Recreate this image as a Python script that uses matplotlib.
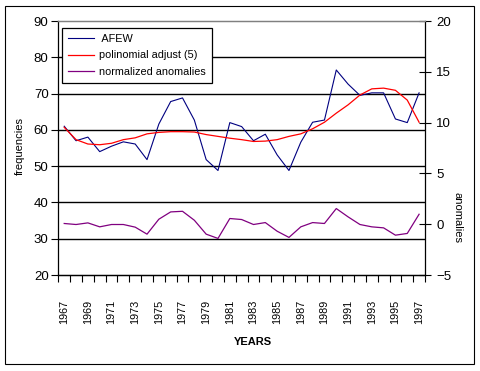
import numpy as np
import matplotlib.pyplot as plt
from matplotlib.patches import Rectangle

plt.rcParams['font.family'] = ['Liberation Sans', 'DejaVu Sans']

years = list(range(1967, 1998))
afew = [61, 57, 58, 54, 55.5, 56.7, 56.1, 51.8, 61.6, 67.8, 68.8, 62.7, 51.8, 48.8,
        62, 60.9, 57, 58.8, 53.1, 48.8, 56.6, 62.1, 62.7, 76.5, 72.6, 69.5, 70.2,
        70.2, 63, 62, 70.2]
poly5 = [60.7, 57.3, 56.1, 55.9, 56.3, 57.3, 57.8, 58.9, 59.3, 59.5, 59.5, 59.4,
         58.7, 58.2, 57.7, 57.3, 56.8, 56.9, 57.3, 58.2, 58.9, 60.3, 62.1, 64.6,
         66.9, 69.6, 71.3, 71.5, 70.9, 68.2, 62.1]
anomalies = [0.07, -0.03, 0.13, -0.26, -0.03, -0.03, -0.29, -0.98, 0.49, 1.21, 1.27,
             0.39, -0.98, -1.4, 0.56, 0.46, -0.03, 0.16, -0.69, -1.3, -0.26, 0.16,
             0.07, 1.54, 0.72, -0.03, -0.26, -0.36, -1.08, -0.91, 0.98]

fig = plt.figure(figsize=(4.81, 3.71), dpi=100)
fig.patches.append(Rectangle((5 / 481, 1 - 364 / 371), 469 / 481, 358 / 371,
                             transform=fig.transFigure, fill=False,
                             edgecolor='black', linewidth=0.8))

ax = fig.add_axes([58.3 / 481, 1 - 275 / 371, (425 - 58.3) / 481, (275 - 21) / 371])
ax2 = ax.twinx()

# gridlines
for v in range(30, 90, 10):
    ax.axhline(v, color='black', linewidth=1.0, zorder=1)

l1, = ax.plot(years, afew, color='#000080', linewidth=0.8, zorder=3)
l2, = ax.plot(years, poly5, color='#ff0000', linewidth=0.9, zorder=3)
l3, = ax2.plot(years, anomalies, color='#800080', linewidth=0.9, zorder=3)

ax.set_xlim(1966.5, 1997.5)
ax.set_ylim(20, 90)
ax2.set_ylim(-5, 20)
ax.set_yticks(range(20, 91, 10))
ax2.set_yticks(range(-5, 21, 5))

ax.set_xticks(years[::2])
ax.set_xticklabels([str(y) for y in years[::2]], rotation=90, fontsize=7.8, va='top')
ax.set_xticks(np.arange(1966.5, 1998, 1), minor=True)
ax.tick_params(axis='x', which='major', length=0, pad=18)
ax.tick_params(axis='x', which='minor', length=5, width=0.8, direction='out')
ax.tick_params(axis='y', labelsize=9.5, length=5, width=0.8, direction='out', pad=2)
ax2.tick_params(axis='y', labelsize=9.5, length=8, width=0.8, direction='inout', pad=4)

for a in (ax, ax2):
    a.set_facecolor('none')
    for s in a.spines.values():
        s.set_linewidth(0.9)
ax.spines['top'].set_color('#808080')
ax.spines['right'].set_visible(False)
ax2.spines['top'].set_color('#808080')
ax2.spines['left'].set_visible(False)

fig.text(20 / 481, 1 - 146 / 371, 'frequencies', rotation=90, fontsize=8,
         ha='center', va='center')
fig.text(458 / 481, 1 - 217 / 371, 'anomalies', rotation=270, fontsize=8,
         ha='center', va='center')
fig.text(253 / 481, 1 - 342 / 371, 'YEARS', fontsize=8, fontweight='bold',
         ha='center', va='center')

leg = ax2.legend([l1, l2, l3], [' AFEW', 'polinomial adjust (5)', 'normalized anomalies'],
                 loc='upper left', bbox_to_anchor=(3.5 / 366.7, 1 - 7 / 254),
                 fontsize=7.8, frameon=True, fancybox=False, framealpha=1,
                 edgecolor='black', handlelength=2.4, handletextpad=0.5,
                 borderpad=0.55, labelspacing=0.6, borderaxespad=0)
leg.get_frame().set_linewidth(0.9)
leg.set_zorder(10)

fig.savefig('out.png', dpi=100)
